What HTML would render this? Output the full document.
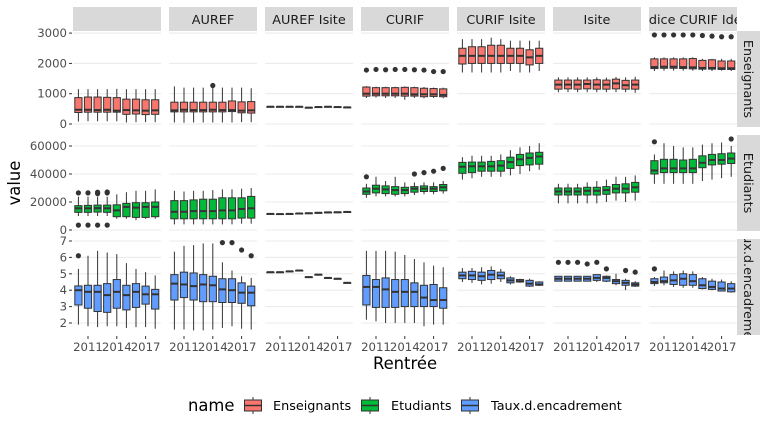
<!DOCTYPE html>
<html><head><meta charset="utf-8"><style>
html,body{margin:0;padding:0;background:#fff}
svg{display:block;font-family:"DejaVu Sans","Liberation Sans",sans-serif}
</style></head><body>
<svg id="chart" width="768" height="432" viewBox="0 0 768 432"></svg>
<script>
const years=[2010,2011,2012,2013,2014,2015,2016,2017,2018];
const panels=["","AUREF","AUREF Isite","CURIF","CURIF Isite","Isite","Indice CURIF Idex"];
const rowNames=["Enseignants","Etudiants","Taux.d.encadrement"];
const colors=["#F8766D","#00BA38","#619CFF"];
// each box: [lower whisker, q1, median, q3, upper whisker]
const ens0=[[80,380,470,870,1150],[90,390,470,890,1150],[90,390,460,890,1150],[90,390,470,880,1150],[90,390,440,870,1160],[50,320,460,820,1150],[60,330,450,820,1150],[60,310,440,800,1150],[60,320,450,800,1150]];
const ens1=[[50,400,450,720,1240],[40,400,470,720,1200],[50,400,460,720,1200],[50,400,460,720,1200],[50,400,470,720,1200],[50,400,460,720,1200],[50,410,460,760,1200],[60,370,440,730,1200],[60,360,450,740,1180]];
const ens2=[[570,570,570,570,570],[570,570,570,570,570],[570,570,570,570,570],[570,570,570,570,570],[540,540,540,540,540],[560,560,560,560,560],[570,570,570,570,570],[560,560,560,560,560],[550,550,550,550,550]];
const ens3=[[860,920,1000,1220,1250],[870,930,1000,1200,1230],[860,930,1000,1200,1230],[860,930,1000,1200,1230],[800,920,1000,1210,1240],[860,920,980,1200,1230],[850,900,980,1180,1220],[860,910,980,1170,1200],[850,900,960,1160,1200]];
const ens4=[[1700,1980,2250,2500,2800],[1700,2000,2250,2550,2800],[1700,2000,2250,2550,2800],[1700,2000,2250,2600,2850],[1700,2000,2250,2600,2800],[1750,2000,2250,2500,2750],[1700,2000,2250,2500,2750],[1700,1950,2200,2450,2750],[1750,2000,2250,2500,2750]];
const ens5=[[1050,1150,1300,1450,1540],[1050,1160,1300,1450,1540],[1050,1150,1300,1450,1540],[1050,1160,1320,1450,1540],[1050,1150,1300,1460,1540],[1050,1150,1300,1450,1530],[1050,1160,1340,1480,1550],[1050,1150,1280,1440,1540],[1030,1150,1300,1450,1560]];
const ens6=[[1750,1830,1880,2150,2200],[1760,1840,1890,2150,2200],[1760,1840,1890,2150,2200],[1760,1830,1880,2150,2200],[1760,1820,1870,2160,2200],[1750,1810,1850,2100,2150],[1750,1810,1850,2120,2150],[1760,1800,1840,2080,2150],[1750,1800,1840,2080,2150]];
const etu0=[[10000,12600,15500,17400,23800],[10000,12600,15500,17600,23800],[10000,12800,15600,17800,23800],[10000,12600,15500,17800,23800],[8000,9500,14000,18000,25500],[8000,9500,16500,19000,27000],[7000,9000,16000,19500,28000],[8000,9000,16500,19500,28000],[8000,9500,16500,20000,29000]];
const etu1=[[4000,8000,13000,21000,28000],[4000,8000,13000,21000,27500],[4000,8000,13500,21500,28000],[4000,8000,13500,22000,28000],[4000,8000,13500,22000,28500],[4000,8000,14000,23000,29000],[4000,8000,14000,23000,29000],[4500,8500,15000,23000,29500],[4500,8500,15500,24000,30000]];
const etu2=[[11500,11500,11500,11500,11500],[11400,11400,11400,11400,11400],[11500,11500,11500,11500,11500],[11800,11800,11800,11800,11800],[12000,12000,12000,12000,12000],[12300,12300,12300,12300,12300],[12600,12600,12600,12600,12600],[12700,12700,12700,12700,12700],[12900,12900,12900,12900,12900]];
const etu3=[[23000,25500,27500,30000,33000],[24000,26500,29500,32000,38000],[24000,26000,29000,31500,35000],[24000,25500,28500,31000,38000],[24000,26000,28500,30500,34000],[25000,27000,29500,31000,34000],[25500,27500,29500,31500,34000],[25500,27500,29500,31000,34000],[26000,28000,30500,32500,35000]];
const etu4=[[36000,40500,45200,48300,52000],[37000,41000,45500,48500,53000],[38000,42000,45500,48500,53000],[38000,42000,45500,49000,53000],[38000,42000,46000,49500,54000],[39000,44000,48500,52000,57000],[40000,46000,50500,54000,59000],[42000,46500,51500,55000,60000],[43000,47000,52500,55500,62000]];
const etu5=[[19000,25000,27500,30000,33000],[19000,25000,27500,30000,33000],[19000,25000,27500,30000,33000],[19000,25000,28000,30500,34000],[19000,25000,28000,30500,35000],[20000,25500,28500,31000,36000],[21000,26500,29500,32500,38000],[20000,26500,29500,33000,38000],[21000,27000,30500,34000,39000]];
const etu6=[[33000,40000,42500,49500,54000],[33000,41000,44000,50500,62000],[33000,41000,44000,50500,60000],[33000,41000,44000,50000,59000],[33000,41000,44000,50500,59000],[35000,44500,48000,53000,61000],[36000,46500,50000,54000,62000],[37000,47000,50000,54500,62500],[38000,47500,51000,55000,60000]];
const tau0=[[1.9,3.1,4.0,4.26,5.3],[1.8,2.9,3.9,4.3,6.1],[1.75,2.7,3.9,4.3,6.4],[1.8,2.65,3.7,4.4,6.3],[1.8,2.9,3.9,4.65,6.2],[1.7,2.8,3.7,4.3,5.65],[1.75,2.95,3.9,4.4,5.3],[1.75,3.15,3.75,4.25,5.1],[1.65,2.85,3.75,4.05,4.9]];
const tau1=[[1.6,3.4,4.4,4.95,6.35],[1.6,3.55,4.35,5.1,6.7],[1.55,3.4,4.25,5.05,6.75],[1.55,3.3,4.35,4.95,6.85],[1.6,3.3,4.3,4.85,6.85],[1.7,3.25,4.05,4.7,5.7],[1.8,3.25,4.0,4.7,5.2],[1.65,3.2,3.85,4.45,4.85],[1.6,3.05,3.85,4.25,4.75]];
const tau2=[[5.1,5.1,5.1,5.1,5.1],[5.1,5.1,5.1,5.1,5.1],[5.15,5.15,5.15,5.15,5.15],[5.2,5.2,5.2,5.2,5.2],[4.8,4.8,4.8,4.8,4.8],[4.95,4.95,4.95,4.95,4.95],[4.75,4.75,4.75,4.75,4.75],[4.7,4.7,4.7,4.7,4.7],[4.45,4.45,4.45,4.45,4.45]];
const tau3=[[2.2,3.1,4.2,4.9,6.4],[2.1,2.95,4.2,4.65,6.4],[2.0,2.95,4.05,4.75,6.4],[2.0,2.95,3.9,4.65,6.35],[2.0,3.0,3.9,4.65,6.15],[2.0,3.0,3.9,4.45,5.9],[1.8,3.0,3.55,4.3,5.7],[1.9,3.0,3.4,4.35,5.5],[1.9,2.9,3.4,4.15,5.4]];
const tau4=[[4.5,4.7,4.9,5.1,5.35],[4.45,4.65,4.9,5.15,5.35],[4.35,4.6,4.85,5.1,5.4],[4.4,4.65,4.95,5.2,5.45],[4.5,4.7,4.9,5.1,5.3],[4.35,4.45,4.6,4.75,4.85],[4.45,4.5,4.55,4.65,4.7],[4.2,4.25,4.4,4.6,4.7],[4.25,4.3,4.35,4.5,4.55]];
const tau5=[[4.55,4.55,4.7,4.85,4.85],[4.55,4.55,4.7,4.85,4.85],[4.55,4.55,4.7,4.85,4.85],[4.55,4.55,4.7,4.85,4.85],[4.5,4.6,4.75,4.95,4.95],[4.5,4.55,4.75,4.85,4.9],[4.3,4.4,4.55,4.65,5.0],[4.0,4.3,4.45,4.6,4.7],[4.2,4.25,4.35,4.45,4.55]];
const tau6=[[4.25,4.4,4.5,4.7,4.8],[4.3,4.45,4.55,4.8,5.2],[4.2,4.35,4.6,4.95,5.15],[4.15,4.3,4.7,5.0,5.2],[4.15,4.3,4.55,4.95,5.15],[4.05,4.1,4.3,4.7,4.8],[4.0,4.05,4.2,4.55,4.7],[3.95,3.95,4.1,4.5,4.65],[3.85,3.9,4.1,4.4,4.55]];
// outliers: [year, value]
const outEns=[[],[[2014,1270]],[],[[2010,1780],[2011,1800],[2012,1790],[2013,1800],[2014,1800],[2015,1790],[2016,1780],[2017,1730],[2018,1730]],[],[],[[2010,2940],[2011,2940],[2012,2940],[2013,2940],[2014,2940],[2015,2920],[2016,2900],[2017,2880],[2018,2880]]];
const outEtu=[[[2010,26500],[2011,26500],[2012,26000],[2012,27000],[2013,26500],[2013,27200],[2010,3500],[2011,3500],[2012,3500],[2013,3500]],[],[],[[2010,38000],[2015,40000],[2016,41000],[2017,42000],[2018,44000]],[],[],[[2010,63000],[2018,65000]]];
const outTau=[[[2010,6.1]],[[2015,6.9],[2016,6.9],[2017,6.45],[2018,6.1]],[],[],[],[[2010,5.7],[2011,5.7],[2012,5.7],[2013,5.6],[2014,5.7],[2015,5.3],[2017,5.2],[2018,5.1]],[[2010,5.3]]];
const rowTicks=[[0,1000,2000,3000],[0,20000,40000,60000],[2,3,4,5,6,7]];
const xTicks=[2011,2014,2017];

const data=[[ens0,ens1,ens2,ens3,ens4,ens5,ens6],[etu0,etu1,etu2,etu3,etu4,etu5,etu6],[tau0,tau1,tau2,tau3,tau4,tau5,tau6]];
const outs=[outEns,outEtu,outTau];

const NS="http://www.w3.org/2000/svg";
const svg=document.getElementById('chart');
function mk(tag,attrs,parent){const e=document.createElementNS(NS,tag);for(const k in attrs)e.setAttribute(k,attrs[k]);(parent||svg).appendChild(e);return e;}
const colX0=[73,169,265,361,457,553,649], colW=88;
const rowY0=[31,135,239], rowH=96;
const yScales=[v=>124-v*0.0303, v=>230-v*0.0014, v=>241+(7-v)*16.4];
function xS(c,yr){return colX0[c]+5.4+(yr-2010)*9.6;}

const defs=mk('defs',{});
panels.forEach((p,c)=>{
  const cp=mk('clipPath',{id:'cs'+c},defs);mk('rect',{x:colX0[c],y:7,width:colW,height:24},cp);
  const r=mk('rect',{x:colX0[c],y:7,width:colW,height:24,fill:'#D9D9D9'});
  
  
  const t=mk('text',{x:colX0[c]+colW/2,y:24,'text-anchor':'middle','font-size':12.8,fill:'#1A1A1A','clip-path':'url(#cs'+c+')'});
  t.textContent=p;
  
  
});
rowNames.forEach((n,r)=>{
  const cp=mk('clipPath',{id:'rs'+r},defs);mk('rect',{x:737,y:rowY0[r],width:23,height:rowH},cp);
  const rr=mk('rect',{x:737,y:rowY0[r],width:23,height:rowH,fill:'#D9D9D9'});
  
  
  const g=mk('g',{'clip-path':'url(#rs'+r+')'});
  const t=mk('text',{x:0,y:0,'text-anchor':'middle','font-size':12.8,fill:'#1A1A1A',transform:`translate(744,${rowY0[r]+rowH/2}) rotate(90)`},g);
  t.textContent=n;
  
  
});
for(let r=0;r<3;r++){
  const ys=yScales[r];
  rowTicks[r].forEach(v=>{
    const y=ys(v);
    for(let c=0;c<7;c++){const l=mk('line',{x1:colX0[c],x2:colX0[c]+colW,y1:y,y2:y,stroke:'#EBEBEB','stroke-width':1.1});}
    mk('line',{x1:69,x2:72,y1:y,y2:y,stroke:'#333','stroke-width':1});
    const t=mk('text',{x:67,y:y+4,'text-anchor':'end','font-size':11.7,fill:'#4D4D4D'});
    t.textContent=v;
    
    
  });
}
for(let r=0;r<3;r++){
  const ys=yScales[r];
  for(let c=0;c<7;c++){
    const g=mk('g',{});
    
    
    data[r][c].forEach((b,i)=>{
      const x=xS(c,years[i]);
      mk('line',{x1:x,x2:x,y1:ys(b[0]),y2:ys(b[4]),stroke:'#333','stroke-width':1},g);
      const h=Math.max(ys(b[1])-ys(b[3]),0.5);
      const rc=mk('rect',{x:x-3.6,y:ys(b[3]),width:7.2,height:h,fill:colors[r],stroke:'#333','stroke-width':1},g);
      
      
      mk('line',{x1:x-3.6,x2:x+3.6,y1:ys(b[2]),y2:ys(b[2]),stroke:'#333','stroke-width':2},g);
    });
    outs[r][c].forEach(o=>{
      const p=mk('circle',{cx:xS(c,o[0]),cy:ys(o[1]),r:2.6,fill:'#333'},g);
      
      
    });
  }
}
for(let c=0;c<7;c++){
  xTicks.forEach(yr=>{
    const x=xS(c,yr);
    mk('line',{x1:x,x2:x,y1:336,y2:339,stroke:'#333','stroke-width':1});
    const t=mk('text',{x:x,y:351,'text-anchor':'middle','font-size':11.7,fill:'#4D4D4D'});
    t.textContent=yr;
    
    
  });
}
let t=mk('text',{x:405,y:369,'text-anchor':'middle','font-size':16.4,fill:'#000'});t.textContent='Rentrée';

t=mk('text',{x:0,y:0,'text-anchor':'middle','font-size':16.4,fill:'#000',transform:'translate(20,183) rotate(-90)'});t.textContent='value';

t=mk('text',{x:188,y:411,'font-size':16.4,fill:'#000'});t.textContent='name';

const legX=[243,360,460], legTX=[273,391,491];
rowNames.forEach((n,i)=>{
  const g=mk('g',{});
  
  
  const x=legX[i];
  mk('line',{x1:x+10,x2:x+10,y1:397,y2:414,stroke:'#333','stroke-width':1},g);
  mk('rect',{x:x+1.5,y:400,width:17,height:11,fill:colors[i],stroke:'#333','stroke-width':1},g);
  mk('line',{x1:x+1.5,x2:x+18.5,y1:405.5,y2:405.5,stroke:'#333','stroke-width':1.5},g);
  const tt=mk('text',{x:legTX[i],y:410,'font-size':12.8,fill:'#000'},g);tt.textContent=n;
});
</script>
</body></html>
